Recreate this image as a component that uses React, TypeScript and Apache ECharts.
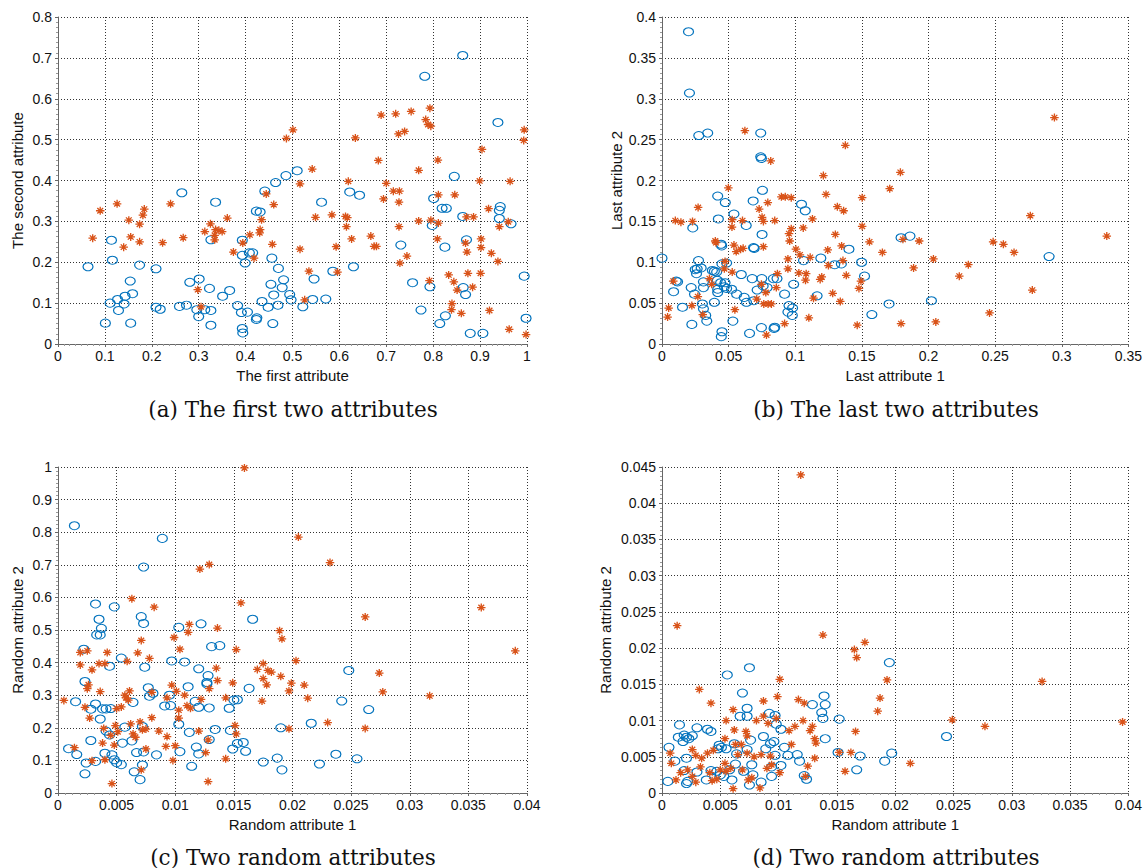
import React, { useEffect, useRef } from "react";
import * as echarts from "echarts";

// ---------- Data ----------
// (a) The first two attributes
const aCircle: number[][] = [
  [0.064, 0.189], [0.114, 0.254], [0.116, 0.205], [0.174, 0.193], [0.154, 0.154], [0.159, 0.123], [0.143, 0.117],
  [0.127, 0.109], [0.111, 0.1], [0.141, 0.098], [0.129, 0.082], [0.101, 0.051], [0.155, 0.051], [0.264, 0.37],
  [0.336, 0.347], [0.209, 0.184], [0.209, 0.09], [0.218, 0.085], [0.259, 0.092], [0.274, 0.095], [0.281, 0.151],
  [0.301, 0.159], [0.296, 0.084], [0.3, 0.067], [0.313, 0.084], [0.326, 0.082], [0.323, 0.136], [0.326, 0.046],
  [0.326, 0.255], [0.351, 0.117], [0.366, 0.131], [0.383, 0.094], [0.391, 0.077], [0.404, 0.078], [0.393, 0.254],
  [0.393, 0.217], [0.399, 0.198], [0.408, 0.223], [0.415, 0.223], [0.393, 0.038], [0.394, 0.027], [0.423, 0.325],
  [0.431, 0.323], [0.441, 0.374], [0.464, 0.395], [0.486, 0.412], [0.51, 0.424], [0.456, 0.21], [0.47, 0.185],
  [0.481, 0.157], [0.478, 0.138], [0.454, 0.146], [0.46, 0.12], [0.435, 0.104], [0.448, 0.09], [0.469, 0.095],
  [0.494, 0.121], [0.497, 0.108], [0.424, 0.064], [0.423, 0.06], [0.458, 0.05],
  [0.863, 0.706], [0.782, 0.655], [0.938, 0.542], [0.845, 0.41], [0.622, 0.372], [0.643, 0.364], [0.562, 0.347],
  [0.801, 0.356], [0.819, 0.332], [0.828, 0.332], [0.943, 0.336], [0.941, 0.327], [0.941, 0.307], [0.966, 0.294],
  [0.863, 0.312], [0.798, 0.29], [0.871, 0.255], [0.825, 0.237], [0.731, 0.242], [0.63, 0.189], [0.586, 0.178],
  [0.546, 0.159], [0.756, 0.15], [0.793, 0.14], [0.864, 0.138], [0.869, 0.121], [0.994, 0.166], [0.543, 0.109],
  [0.571, 0.11], [0.522, 0.091], [0.774, 0.083], [0.826, 0.069], [0.814, 0.05], [0.879, 0.026], [0.906, 0.026],
  [0.998, 0.063],
];
const aStar: number[][] = [
  [0.09, 0.326], [0.126, 0.343], [0.074, 0.259], [0.151, 0.303], [0.174, 0.293], [0.184, 0.33], [0.181, 0.315],
  [0.155, 0.262], [0.174, 0.25], [0.14, 0.237], [0.24, 0.343], [0.223, 0.248], [0.267, 0.26], [0.325, 0.294],
  [0.313, 0.275], [0.336, 0.28], [0.35, 0.275], [0.334, 0.266], [0.334, 0.255], [0.343, 0.278], [0.361, 0.308],
  [0.374, 0.225], [0.298, 0.133], [0.305, 0.091], [0.394, 0.247], [0.409, 0.267], [0.431, 0.28], [0.43, 0.272],
  [0.434, 0.304], [0.444, 0.367], [0.46, 0.341], [0.457, 0.244], [0.418, 0.21], [0.487, 0.503], [0.501, 0.524],
  [0.689, 0.56], [0.72, 0.563], [0.753, 0.569], [0.793, 0.577], [0.784, 0.549], [0.789, 0.537], [0.795, 0.533],
  [0.726, 0.514], [0.739, 0.52], [0.634, 0.504], [0.994, 0.524], [0.993, 0.498], [0.904, 0.476], [0.683, 0.449],
  [0.81, 0.45], [0.769, 0.425], [0.542, 0.428], [0.516, 0.392], [0.619, 0.398], [0.7, 0.393], [0.715, 0.374],
  [0.728, 0.374], [0.694, 0.355], [0.727, 0.347], [0.811, 0.365], [0.846, 0.365], [0.899, 0.399], [0.964, 0.398],
  [0.918, 0.331], [0.549, 0.31], [0.584, 0.316], [0.613, 0.312], [0.617, 0.309], [0.615, 0.287], [0.769, 0.301],
  [0.795, 0.303], [0.811, 0.296], [0.871, 0.311], [0.886, 0.311], [0.96, 0.299], [0.941, 0.287], [0.727, 0.287],
  [0.626, 0.257], [0.667, 0.264], [0.674, 0.239], [0.679, 0.239], [0.516, 0.232], [0.593, 0.238], [0.809, 0.257],
  [0.869, 0.247], [0.872, 0.225], [0.902, 0.257], [0.902, 0.236], [0.924, 0.222], [0.938, 0.202], [0.744, 0.215],
  [0.729, 0.198], [0.535, 0.178], [0.596, 0.176], [0.792, 0.155], [0.833, 0.169], [0.844, 0.152], [0.851, 0.132],
  [0.874, 0.173], [0.884, 0.139], [0.901, 0.173], [0.526, 0.108], [0.84, 0.099], [0.839, 0.084], [0.86, 0.075],
  [0.92, 0.082], [0.962, 0.036], [0.998, 0.023],
];

// (b) The last two attributes
const bCircle: number[][] = [
  [0.0199, 0.382], [0.0206, 0.307], [0.0276, 0.255], [0.0343, 0.258], [0.0741, 0.258], [0.0741, 0.229],
  [0.0746, 0.227], [0.0754, 0.188], [0.0418, 0.181], [0.0475, 0.173], [0.054, 0.159], [0.0684, 0.175],
  [0.0423, 0.153], [0.0632, 0.145], [0.0231, 0.142], [0.1047, 0.171], [0.1075, 0.163], [0.0751, 0.134],
  [0.0443, 0.122], [0.0448, 0.12], [0.0687, 0.118], [0.0692, 0.117], [0.1403, 0.116], [0.0, 0.105],
  [0.0274, 0.102], [0.0264, 0.092], [0.0249, 0.091], [0.0294, 0.093], [0.0259, 0.086], [0.0378, 0.09],
  [0.0393, 0.089], [0.041, 0.088], [0.045, 0.098], [0.0485, 0.099], [0.0595, 0.085], [0.0677, 0.08],
  [0.0749, 0.08], [0.0836, 0.08], [0.0863, 0.08], [0.1062, 0.102], [0.1192, 0.105], [0.1296, 0.097],
  [0.1346, 0.098], [0.1498, 0.1], [0.152, 0.083], [0.0107, 0.077], [0.0117, 0.076], [0.0087, 0.064],
  [0.0219, 0.069], [0.0311, 0.076], [0.0311, 0.069], [0.0244, 0.061], [0.0415, 0.078], [0.044, 0.075],
  [0.0473, 0.075], [0.0468, 0.07], [0.0418, 0.067], [0.0418, 0.063], [0.0485, 0.068], [0.0522, 0.067],
  [0.056, 0.061], [0.0617, 0.057], [0.0634, 0.051], [0.0689, 0.053], [0.0714, 0.066], [0.0759, 0.071],
  [0.0789, 0.069], [0.0988, 0.073], [0.092, 0.061], [0.1164, 0.059], [0.0393, 0.051], [0.0303, 0.049],
  [0.0311, 0.043], [0.0328, 0.035], [0.0336, 0.028], [0.0154, 0.045], [0.0224, 0.024], [0.0532, 0.028],
  [0.0953, 0.047], [0.098, 0.044], [0.0945, 0.039], [0.0978, 0.035], [0.1575, 0.036], [0.1704, 0.049],
  [0.045, 0.015], [0.0445, 0.009], [0.0657, 0.013], [0.0746, 0.02], [0.0841, 0.019], [0.0846, 0.0205],
  [0.1794, 0.13], [0.1861, 0.132], [0.2905, 0.107], [0.2022, 0.053],
];
const bStar: number[][] = [
  [0.0622, 0.261], [0.0816, 0.224], [0.1376, 0.243], [0.1211, 0.206], [0.0498, 0.191], [0.0794, 0.173],
  [0.0729, 0.165], [0.0751, 0.155], [0.0761, 0.15], [0.0846, 0.151], [0.0896, 0.18], [0.0925, 0.18],
  [0.097, 0.179], [0.0271, 0.167], [0.01, 0.151], [0.0142, 0.149], [0.0229, 0.15], [0.0527, 0.152],
  [0.0604, 0.151], [0.0525, 0.143], [0.1231, 0.183], [0.1316, 0.168], [0.1363, 0.163], [0.1129, 0.153],
  [0.1502, 0.179], [0.1709, 0.19], [0.1502, 0.144], [0.106, 0.142], [0.097, 0.141], [0.0953, 0.135],
  [0.0958, 0.126], [0.04, 0.126], [0.0405, 0.124], [0.1301, 0.134], [0.1557, 0.125], [0.1348, 0.12],
  [0.1244, 0.115], [0.1654, 0.112], [0.1005, 0.116], [0.1035, 0.109], [0.1112, 0.106], [0.0945, 0.104],
  [0.054, 0.121], [0.0557, 0.113], [0.059, 0.116], [0.0609, 0.117], [0.0761, 0.119], [0.0473, 0.101],
  [0.0527, 0.088], [0.1358, 0.102], [0.1249, 0.096], [0.0945, 0.092], [0.1027, 0.087], [0.1082, 0.086],
  [0.0866, 0.086], [0.1077, 0.078], [0.1199, 0.082], [0.1187, 0.079], [0.1383, 0.084], [0.1493, 0.077],
  [0.1478, 0.068], [0.1281, 0.062], [0.1338, 0.052], [0.1137, 0.056], [0.0858, 0.069], [0.0746, 0.073],
  [0.0779, 0.063], [0.0711, 0.055], [0.0764, 0.049], [0.0796, 0.049], [0.0821, 0.049], [0.0356, 0.08],
  [0.0373, 0.073], [0.0085, 0.077], [0.0269, 0.058], [0.0224, 0.047], [0.005, 0.044], [0.0042, 0.033],
  [0.0306, 0.036], [0.0547, 0.042], [0.092, 0.025], [0.0784, 0.011], [0.1102, 0.032], [0.1465, 0.023],
  [0.0468, 0.092], [0.2945, 0.277], [0.1789, 0.21], [0.2764, 0.157], [0.3338, 0.132], [0.1808, 0.128],
  [0.193, 0.126], [0.2485, 0.125], [0.2562, 0.122], [0.2642, 0.112], [0.2037, 0.104], [0.1888, 0.093],
  [0.2299, 0.097], [0.2231, 0.083], [0.2779, 0.066], [0.2458, 0.038], [0.1794, 0.025], [0.2055, 0.027],
];

// (c) Two random attributes
const cCircle: number[][] = [
  [0.0014, 0.82], [0.0089, 0.781], [0.0073, 0.693], [0.0032, 0.58], [0.0048, 0.571], [0.0035, 0.533],
  [0.0037, 0.505], [0.0033, 0.485], [0.0036, 0.485], [0.0071, 0.541], [0.0073, 0.52], [0.0103, 0.508],
  [0.0122, 0.519], [0.0166, 0.533], [0.0131, 0.449], [0.0138, 0.452], [0.0022, 0.441], [0.0054, 0.414],
  [0.0044, 0.389], [0.0074, 0.386], [0.0097, 0.405], [0.0108, 0.402], [0.012, 0.381], [0.0128, 0.36],
  [0.0127, 0.339], [0.0127, 0.334], [0.0023, 0.342], [0.0015, 0.28], [0.0032, 0.273], [0.0028, 0.257],
  [0.0038, 0.258], [0.0041, 0.258], [0.0045, 0.259], [0.0064, 0.278], [0.0077, 0.323], [0.0078, 0.297],
  [0.0081, 0.306], [0.0095, 0.3], [0.0091, 0.267], [0.0096, 0.268], [0.0111, 0.326], [0.0117, 0.281],
  [0.012, 0.263], [0.0129, 0.261], [0.0146, 0.26], [0.015, 0.285], [0.0153, 0.286], [0.0163, 0.321],
  [0.0036, 0.227], [0.0041, 0.19], [0.0044, 0.178], [0.0028, 0.161], [0.0057, 0.202], [0.0072, 0.204],
  [0.0103, 0.211], [0.0112, 0.186], [0.0134, 0.195], [0.0147, 0.192], [0.0129, 0.164], [0.0063, 0.16],
  [0.0055, 0.153], [0.0009, 0.136], [0.0016, 0.118], [0.0024, 0.092], [0.0023, 0.059], [0.0032, 0.097],
  [0.004, 0.122], [0.0046, 0.117], [0.0048, 0.102], [0.005, 0.093], [0.0054, 0.087], [0.0067, 0.124],
  [0.0073, 0.126], [0.0072, 0.086], [0.0065, 0.065], [0.007, 0.041], [0.0084, 0.117], [0.0104, 0.127],
  [0.0114, 0.082], [0.0118, 0.141], [0.012, 0.12], [0.0149, 0.135], [0.0153, 0.152], [0.0158, 0.155],
  [0.016, 0.128], [0.0175, 0.095], [0.0187, 0.107], [0.0191, 0.071], [0.019, 0.2],
  [0.0248, 0.376], [0.0242, 0.282], [0.0265, 0.256], [0.0216, 0.214], [0.0237, 0.119], [0.0223, 0.089],
  [0.0255, 0.105],
];
const cStar: number[][] = [
  [0.0159, 0.997], [0.0121, 0.687], [0.0129, 0.701], [0.0063, 0.596], [0.0082, 0.57], [0.0156, 0.583],
  [0.0112, 0.517], [0.0111, 0.493], [0.0136, 0.506], [0.0099, 0.477], [0.0071, 0.468], [0.0189, 0.498],
  [0.0191, 0.473], [0.0104, 0.441], [0.0152, 0.44], [0.0019, 0.431], [0.0025, 0.436], [0.0042, 0.431],
  [0.0068, 0.43], [0.0078, 0.413], [0.0059, 0.404], [0.0035, 0.397], [0.004, 0.397], [0.0019, 0.393],
  [0.0029, 0.378], [0.0135, 0.383], [0.0175, 0.397], [0.017, 0.379], [0.0179, 0.376], [0.0182, 0.371],
  [0.0175, 0.351], [0.0178, 0.332], [0.019, 0.358], [0.0199, 0.337], [0.0197, 0.313], [0.0136, 0.345],
  [0.0149, 0.338], [0.0129, 0.32], [0.0097, 0.331], [0.0101, 0.312], [0.0108, 0.3], [0.008, 0.309],
  [0.0061, 0.313], [0.0057, 0.3], [0.0058, 0.292], [0.006, 0.285], [0.0036, 0.311], [0.0026, 0.332],
  [0.0025, 0.32], [0.0005, 0.284], [0.0023, 0.263], [0.0027, 0.23], [0.005, 0.259], [0.0054, 0.264],
  [0.008, 0.231], [0.0093, 0.292], [0.011, 0.268], [0.0113, 0.26], [0.0122, 0.287], [0.0143, 0.292],
  [0.0103, 0.254], [0.0103, 0.23], [0.0174, 0.282], [0.0039, 0.198], [0.0049, 0.207], [0.0051, 0.188],
  [0.0062, 0.212], [0.007, 0.218], [0.0072, 0.194], [0.0075, 0.196], [0.0064, 0.181], [0.0066, 0.171],
  [0.0086, 0.19], [0.0093, 0.173], [0.012, 0.19], [0.0151, 0.207], [0.0152, 0.181], [0.0128, 0.163],
  [0.0045, 0.177], [0.0038, 0.153], [0.0048, 0.147], [0.0014, 0.139], [0.0029, 0.099], [0.004, 0.102],
  [0.0075, 0.135], [0.0092, 0.143], [0.01, 0.145], [0.0098, 0.1], [0.0126, 0.124], [0.0143, 0.105],
  [0.0197, 0.197], [0.0071, 0.071], [0.0046, 0.029], [0.0128, 0.035],
  [0.0205, 0.785], [0.0232, 0.707], [0.0361, 0.569], [0.0262, 0.54], [0.039, 0.436], [0.0203, 0.406],
  [0.021, 0.331], [0.0274, 0.368], [0.0277, 0.31], [0.0213, 0.291], [0.0317, 0.298], [0.023, 0.216],
  [0.0262, 0.198],
];

// (d) Two random attributes
const dCircle: number[][] = [
  [0.0075, 0.0173], [0.0056, 0.0163], [0.0069, 0.0138], [0.0139, 0.0134], [0.014, 0.0122], [0.0129, 0.0122],
  [0.0137, 0.0111], [0.0138, 0.0103], [0.0073, 0.0117], [0.0067, 0.0106], [0.0073, 0.0106], [0.0092, 0.011],
  [0.0097, 0.0107], [0.0098, 0.0095], [0.0102, 0.0088], [0.0152, 0.0102], [0.003, 0.009], [0.0039, 0.0088],
  [0.0042, 0.0085], [0.0015, 0.0094], [0.0014, 0.0077], [0.0019, 0.008], [0.0021, 0.0077], [0.0023, 0.0075],
  [0.0026, 0.0079], [0.0018, 0.0071], [0.0076, 0.0073], [0.0087, 0.0078], [0.0093, 0.0068], [0.0096, 0.0071],
  [0.0062, 0.0068], [0.0049, 0.0066], [0.0048, 0.0061], [0.0051, 0.0063], [0.0055, 0.0061], [0.0089, 0.0061],
  [0.0073, 0.006], [0.0064, 0.0054], [0.0097, 0.0052], [0.0105, 0.0063], [0.0108, 0.0052], [0.0116, 0.0053],
  [0.0118, 0.0044], [0.014, 0.0075], [0.0151, 0.0056], [0.017, 0.0051], [0.0167, 0.0032], [0.0191, 0.0044],
  [0.0197, 0.0055], [0.0195, 0.018], [0.0006, 0.0063], [0.0005, 0.0016], [0.0011, 0.0044], [0.0019, 0.0031],
  [0.0021, 0.0048], [0.0022, 0.0016], [0.0021, 0.0013], [0.003, 0.0029], [0.0038, 0.0018], [0.0042, 0.0031],
  [0.0047, 0.003], [0.005, 0.0025], [0.0053, 0.0023], [0.0058, 0.0032], [0.006, 0.0018], [0.0063, 0.004],
  [0.007, 0.003], [0.0077, 0.0039], [0.0078, 0.0025], [0.0075, 0.0011], [0.0085, 0.0015], [0.0094, 0.0036],
  [0.0102, 0.0038], [0.0094, 0.0023], [0.0122, 0.0024], [0.0124, 0.0019], [0.0244, 0.0078],
];
const dStar: number[][] = [
  [0.0119, 0.0439], [0.0013, 0.0231], [0.0138, 0.0218], [0.0174, 0.0208], [0.0165, 0.0198], [0.0167, 0.0187],
  [0.0101, 0.0157], [0.0193, 0.0156], [0.0032, 0.0143], [0.0042, 0.0124], [0.0061, 0.0115], [0.0087, 0.0127],
  [0.0099, 0.0133], [0.0117, 0.0129], [0.0122, 0.0124], [0.0187, 0.0131], [0.0185, 0.0113], [0.0055, 0.01],
  [0.0087, 0.0106], [0.0081, 0.01], [0.0091, 0.0096], [0.0098, 0.0103], [0.0121, 0.01], [0.0062, 0.0087],
  [0.0072, 0.0085], [0.0073, 0.0079], [0.0054, 0.0075], [0.0109, 0.0086], [0.0114, 0.0092], [0.0127, 0.0086],
  [0.0129, 0.0092], [0.0131, 0.0075], [0.0132, 0.0069], [0.0166, 0.0085], [0.0111, 0.0067], [0.0063, 0.0067],
  [0.0068, 0.0067], [0.0026, 0.006], [0.0007, 0.0055], [0.0008, 0.0041], [0.0029, 0.0052], [0.0034, 0.0048],
  [0.0039, 0.0055], [0.0044, 0.0059], [0.0073, 0.0055], [0.0079, 0.005], [0.0085, 0.0053], [0.0093, 0.0051],
  [0.0065, 0.0053], [0.0131, 0.0048], [0.0152, 0.0056], [0.0162, 0.0056], [0.0125, 0.0037], [0.0157, 0.003],
  [0.0016, 0.0028], [0.0012, 0.0018], [0.0022, 0.0032], [0.0026, 0.0023], [0.0029, 0.0015], [0.0033, 0.0036],
  [0.0041, 0.0028], [0.0043, 0.0017], [0.0047, 0.0019], [0.005, 0.0032], [0.0054, 0.0041], [0.0055, 0.003],
  [0.0059, 0.0034], [0.0069, 0.0032], [0.0074, 0.0018], [0.0077, 0.0021], [0.0061, 0.0006], [0.0084, 0.0007],
  [0.009, 0.0034], [0.0094, 0.0039], [0.0101, 0.0028], [0.0123, 0.0023],
  [0.0326, 0.0154], [0.0249, 0.0101], [0.0277, 0.0092], [0.0395, 0.0098], [0.0213, 0.0041],
];

// Axis settings (ranges / tick steps)
const xRanges = [[0, 1, 0.1], [0, 0.35, 0.05], [0, 0.04, 0.005], [0, 0.04, 0.005]];
const yRanges = [[0, 0.8, 0.1], [0, 0.4, 0.05], [0, 1, 0.1], [0, 0.045, 0.005]];
const xNames = ["The first attribute", "Last attribute 1", "Random attribute 1", "Random attribute 1"];
const yNames = ["The second attribute", "Last attribute 2", "Random attribute 2", "Random attribute 2"];
const captions = [
  "(a) The first two attributes",
  "(b) The last two attributes",
  "(c) Two random attributes",
  "(d) Two random attributes",
];

const BLUE = "#0072BD";
const ORANGE = "#D95319";
const STAR = "path://M5,0L5,10M0,5L10,5M1.6,1.6L8.4,8.4M8.4,1.6L1.6,8.4";

export default function App() {
  const ref = useRef<HTMLDivElement>(null);
  useEffect(() => {
    if (!ref.current) return;
    const chart = echarts.init(ref.current, undefined, { renderer: "svg" });

    const grids = [
      { left: 58, top: 17, width: 469, height: 327 },
      { left: 662, top: 17, width: 469, height: 327 },
      { left: 58, top: 467, width: 469, height: 326 },
      { left: 662, top: 467, width: 469, height: 326 },
    ];
    const yGaps = [33, 38, 33, 49];
    const fmt = (v: number) => String(+v.toFixed(4));
    const font = "Liberation Sans";

    const xAxis = xRanges.map((r, i) => ({
      type: "value",
      gridIndex: i,
      min: r[0],
      max: r[1],
      interval: r[2],
      name: xNames[i],
      nameLocation: "middle",
      nameGap: 24,
      nameTextStyle: { fontFamily: font, fontSize: 15, color: "#111" },
      axisLine: { show: true, onZero: false, lineStyle: { color: "#666", width: 1 } },
      axisTick: { show: true, inside: false, length: 3, lineStyle: { color: "#666" } },
      minorTick: { show: true, splitNumber: 8, length: 2, lineStyle: { color: "#999" } },
      axisLabel: { fontFamily: font, fontSize: 14, color: "#111", margin: 5, formatter: fmt, showMaxLabel: true, showMinLabel: true },
      splitLine: { show: true, lineStyle: { type: [1, 2], color: "#333", width: 1 } },
    }));
    const yAxis = yRanges.map((r, i) => ({
      type: "value",
      gridIndex: i,
      min: r[0],
      max: r[1],
      interval: r[2],
      name: yNames[i],
      nameLocation: "middle",
      nameGap: yGaps[i],
      nameRotate: 90,
      nameTextStyle: { fontFamily: font, fontSize: 15, color: "#111" },
      axisLine: { show: true, onZero: false, lineStyle: { color: "#666", width: 1 } },
      axisTick: { show: true, inside: false, length: 3, lineStyle: { color: "#666" } },
      minorTick: { show: true, splitNumber: 8, length: 2, lineStyle: { color: "#999" } },
      axisLabel: { fontFamily: font, fontSize: 14, color: "#111", margin: 6, formatter: fmt, showMaxLabel: true, showMinLabel: true },
      splitLine: { show: true, lineStyle: { type: [1, 2], color: "#333", width: 1 } },
    }));

    const circleSeries = (data: number[][], i: number) => ({
      type: "scatter",
      xAxisIndex: i,
      yAxisIndex: i,
      data,
      symbol: "circle",
      symbolSize: [10, 8],
      itemStyle: { color: "rgba(0,0,0,0)", borderColor: BLUE, borderWidth: 1.1, opacity: 1 },
    });
    const starSeries = (data: number[][], i: number) => ({
      type: "scatter",
      xAxisIndex: i,
      yAxisIndex: i,
      data,
      symbol: STAR,
      symbolSize: [8.5, 8],
      itemStyle: { color: "rgba(0,0,0,0)", borderColor: ORANGE, borderWidth: 1.3, opacity: 1 },
    });

    const capPos = [
      [293, 409],
      [896, 409],
      [293, 857],
      [896, 857],
    ];

    chart.setOption({
      animation: false,
      backgroundColor: "#ffffff",
      grid: grids,
      xAxis,
      yAxis,
      series: [
        circleSeries(aCircle, 0),
        starSeries(aStar, 0),
        circleSeries(bCircle, 1),
        starSeries(bStar, 1),
        circleSeries(cCircle, 2),
        starSeries(cStar, 2),
        circleSeries(dCircle, 3),
        starSeries(dStar, 3),
      ],
      graphic: captions.map((t, i) => ({
        type: "text",
        x: capPos[i][0],
        y: capPos[i][1],
        style: {
          text: t,
          fontFamily: "DejaVu Serif",
          fontSize: 21.5,
          fill: "#111",
          textAlign: "center",
          textVerticalAlign: "middle",
        },
      })),
    });
    return () => chart.dispose();
  }, []);
  return (
    <div
      ref={ref}
      style={{ position: "fixed", left: 0, top: 0, width: 1145, height: 868, background: "#fff" }}
    />
  );
}
